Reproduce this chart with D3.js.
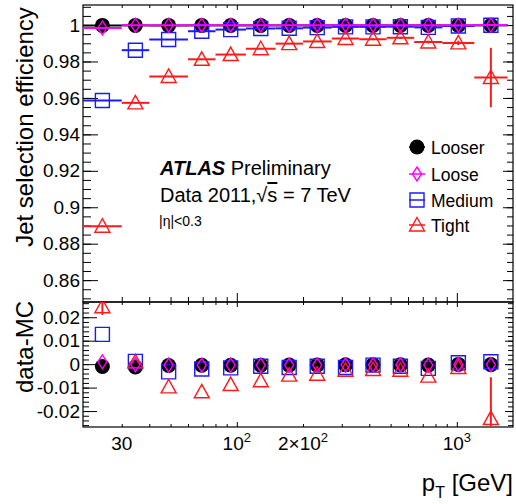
<!DOCTYPE html>
<html>
<head>
<meta charset="utf-8">
<script src="https://cdn.jsdelivr.net/npm/d3@7"></script>
<style>
  body { margin: 0; background: #fff; }
  svg { display: block; font-family: "Liberation Sans", Arial, Helvetica, sans-serif; }
</style>
</head>
<body>
<script>
// pT bins (GeV)
const ptCenters = [24.5, 34.6, 49, 69.3, 93.8, 128.5, 173, 232, 312, 416, 554, 742, 1016, 1428];
const ptLow     = [20, 30, 40, 60, 80, 110, 150, 200, 270, 360, 480, 640, 860, 1200];
const ptHigh    = [30, 40, 60, 80, 110, 150, 200, 270, 360, 480, 640, 860, 1200, 1700];

// efficiencies (top pad)
const effLooser = [0.9998, 0.9998, 0.9998, 0.9998, 0.9998, 0.9998, 0.9998, 0.9998, 0.9998, 0.9998, 0.9998, 0.9998, 0.9998, 0.9999];
const effLoose  = [0.9984, 0.9999, 0.9999, 0.9999, 0.9999, 0.9999, 0.9999, 0.9999, 0.9999, 0.9999, 0.9999, 0.9999, 0.9999, 1.0];
const effMedium = [0.9586, 0.9862, 0.9921, 0.9966, 0.9975, 0.9981, 0.9982, 0.9986, 0.9990, 0.9990, 0.9991, 0.9987, 0.9995, 0.9999];
const effTight  = [0.8896, 0.9573, 0.9718, 0.9812, 0.9838, 0.9870, 0.9898, 0.9910, 0.9926, 0.9922, 0.9930, 0.9907, 0.9902, 0.9712];
const errTight  = [0.0004, 0.0003, 0.0003, 0.0003, 0.0003, 0.0003, 0.0003, 0.0003, 0.0004, 0.0005, 0.0006, 0.0008, 0.0012, 0.0163];

// data - MC (bottom pad)
const diffLooser = [-0.0010, -0.0012, -0.0006, -0.0005, -0.0005, -0.0005, -0.0004, -0.0004, -0.0003, -0.0003, -0.0003, -0.0004, -0.0001, -0.0002];
const diffLoose  = [0.0010, -0.0002, -0.0004, -0.0004, -0.0004, -0.0004, -0.0004, -0.0004, -0.0003, -0.0003, -0.0003, -0.0004, -0.0001, -0.0002];
const diffMedium = [0.0127, 0.0012, -0.0033, -0.0021, -0.0016, -0.0009, -0.0014, -0.0009, -0.0014, -0.0004, -0.0009, -0.0018, 0.0006, 0.0010];
const diffTight  = [0.0245, 0.0010, -0.0097, -0.0118, -0.0087, -0.0071, -0.0047, -0.0043, -0.0026, -0.0023, -0.0026, -0.0051, -0.0014, -0.0232];
const diffErrTight = [0.0035, 0, 0, 0, 0, 0, 0, 0, 0, 0, 0, 0, 0, 0.0176];

// tick labels
const yTopTicks = [0.86, 0.88, 0.9, 0.92, 0.94, 0.96, 0.98, 1];
const yBotTicks = [-0.02, -0.01, 0, 0.01, 0.02];
const xLabelTicks = [30, 100, 200, 1000];
const xLabelText = [["30", ""], ["10", "2"], ["2\u00d710", "2"], ["10", "3"]];

const legendNames = ["Looser", "Loose", "Medium", "Tight"];

const series = [
  { name: "Looser", eff: effLooser, diff: diffLooser, color: "#000000", marker: "circle" },
  { name: "Medium", eff: effMedium, diff: diffMedium, color: "#1a1aff", marker: "square" },
  { name: "Tight",  eff: effTight,  diff: diffTight,  color: "#ff1a1a", marker: "triangle", err: errTight, diffErr: diffErrTight },
  { name: "Loose",  eff: effLoose,  diff: diffLoose,  color: "#ff00ff", marker: "diamond" }
];

const W = 516, H = 504;
const L = 83, R = 513, T = 5, MID = 302, B = 427;

const svg = d3.select("body").append("svg").attr("width", W).attr("height", H);

const x = d3.scaleLog().domain([20, 1800]).range([L, R]);
const yTop = d3.scaleLinear().domain([0.848, 1.011]).range([MID, T]);
const yBot = d3.scaleLinear().domain([-0.0268, 0.0265]).range([B, MID]);

// clip paths for each pad
const defs = svg.append("defs");
defs.append("clipPath").attr("id", "clipTop").append("rect")
  .attr("x", L).attr("y", T).attr("width", R - L).attr("height", MID - T);
defs.append("clipPath").attr("id", "clipBot").append("rect")
  .attr("x", L).attr("y", MID).attr("width", R - L).attr("height", B - MID);

function markerPath(type) {
  if (type === "square") return "M-7,-7H7V7H-7Z";
  if (type === "triangle") return "M0,-7.5L7.5,6L-7.5,6Z";
  if (type === "diamond") return "M0,-7L4.5,0L0,7L-4.5,0Z";
  return null;
}

function drawMarker(g, type, color, cx, cy) {
  if (type === "circle") {
    g.append("circle").attr("cx", cx).attr("cy", cy).attr("r", 7.5).attr("fill", color);
  } else {
    g.append("path").attr("d", markerPath(type))
      .attr("transform", "translate(" + cx + "," + cy + ")")
      .attr("fill", "none").attr("stroke", color).attr("stroke-width", 1.4);
  }
}

// ---------- axes ----------
function styleAxis(g) {
  g.select(".domain").remove();
  g.selectAll("line").attr("stroke", "#000").attr("stroke-width", 1);
  g.selectAll("text").attr("font-size", 19).attr("fill", "#000")
    .attr("font-family", "Liberation Sans, Arial, sans-serif");
}

const yTopMinor = d3.range(170, 203).map(i => i * 0.005).filter(v => v > 0.848 && v < 1.011);
const yBotMinor = d3.range(-13, 14).map(i => i * 0.002).filter(v => v > -0.0268 && v < 0.0265);
const xMinor = [30, 40, 50, 60, 70, 80, 90, 200, 300, 400, 500, 600, 700, 800, 900];
const xMajor = [100, 1000];

// top pad left
svg.append("g").attr("transform", `translate(${L},0)`)
  .call(d3.axisLeft(yTop).tickValues(yTopMinor).tickSizeInner(-8).tickSizeOuter(0).tickFormat(""))
  .call(styleAxis);
svg.append("g").attr("transform", `translate(${L},0)`)
  .call(d3.axisLeft(yTop).tickValues(yTopTicks).tickSizeInner(-15).tickSizeOuter(0).tickPadding(3)
    .tickFormat(d => d3.format(".2~f")(d)))
  .call(styleAxis);
// top pad right
svg.append("g").attr("transform", `translate(${R},0)`)
  .call(d3.axisRight(yTop).tickValues(yTopMinor).tickSizeInner(-6).tickSizeOuter(0).tickFormat(""))
  .call(styleAxis);
svg.append("g").attr("transform", `translate(${R},0)`)
  .call(d3.axisRight(yTop).tickValues(yTopTicks).tickSizeInner(-10).tickSizeOuter(0).tickFormat(""))
  .call(styleAxis);

// bottom pad left
svg.append("g").attr("transform", `translate(${L},0)`)
  .call(d3.axisLeft(yBot).tickValues(yBotMinor).tickSizeInner(-6).tickSizeOuter(0).tickFormat(""))
  .call(styleAxis);
svg.append("g").attr("transform", `translate(${L},0)`)
  .call(d3.axisLeft(yBot).tickValues(yBotTicks).tickSizeInner(-14).tickSizeOuter(0).tickPadding(3)
    .tickFormat(d => String(d)))
  .call(styleAxis);
// bottom pad right
svg.append("g").attr("transform", `translate(${R},0)`)
  .call(d3.axisRight(yBot).tickValues(yBotMinor).tickSizeInner(-5).tickSizeOuter(0).tickFormat(""))
  .call(styleAxis);
svg.append("g").attr("transform", `translate(${R},0)`)
  .call(d3.axisRight(yBot).tickValues(yBotTicks).tickSizeInner(-8).tickSizeOuter(0).tickFormat(""))
  .call(styleAxis);

// x ticks, all pointing into their pad: [y, side, minor length, major length]
[[MID, "bottom", 5, 9], [T, "top", 3, 5], [MID, "top", 3, 5], [B, "bottom", 3, 5]].forEach(([yy, side, mn, mj]) => {
  const ax = side === "bottom" ? d3.axisBottom : d3.axisTop;
  svg.append("g").attr("transform", `translate(0,${yy})`)
    .call(ax(x).tickValues(xMinor).tickSizeInner(-mn).tickSizeOuter(0).tickFormat(""))
    .call(styleAxis);
  svg.append("g").attr("transform", `translate(0,${yy})`)
    .call(ax(x).tickValues(xMajor).tickSizeInner(-mj).tickSizeOuter(0).tickFormat(""))
    .call(styleAxis);
});

// x tick labels
const xl = svg.append("g").attr("font-size", 19).attr("text-anchor", "middle");
xLabelTicks.forEach((v, i) => {
  const t = xl.append("text").attr("x", x(v)).attr("y", 450);
  t.append("tspan").text(xLabelText[i][0]);
  if (xLabelText[i][1]) {
    t.append("tspan").attr("dy", -8).attr("font-size", 13).text(xLabelText[i][1]);
  }
});

// frames
svg.append("rect").attr("x", L).attr("y", T).attr("width", R - L).attr("height", MID - T)
  .attr("fill", "none").attr("stroke", "#000").attr("stroke-width", 1.2);
svg.append("rect").attr("x", L).attr("y", MID).attr("width", R - L).attr("height", B - MID)
  .attr("fill", "none").attr("stroke", "#000").attr("stroke-width", 1.2);

// ---------- top pad data ----------
const gTop = svg.append("g").attr("clip-path", "url(#clipTop)");
series.forEach(s => {
  const g = gTop.append("g");
  // bin-width bars
  g.selectAll("line.xerr").data(s.eff).join("line")
    .attr("x1", (d, i) => x(ptLow[i])).attr("x2", (d, i) => x(ptHigh[i]))
    .attr("y1", d => yTop(d)).attr("y2", d => yTop(d))
    .attr("stroke", s.color).attr("stroke-width", 2);
  if (s.err) {
    g.selectAll("line.yerr").data(s.eff).join("line")
      .attr("x1", (d, i) => x(ptCenters[i])).attr("x2", (d, i) => x(ptCenters[i]))
      .attr("y1", (d, i) => yTop(d - s.err[i])).attr("y2", (d, i) => yTop(d + s.err[i]))
      .attr("stroke", s.color).attr("stroke-width", 2);
  }
  s.eff.forEach((d, i) => drawMarker(g, s.marker, s.color, x(ptCenters[i]), yTop(d)));
});

// ---------- bottom pad data ----------
const gBot = svg.append("g").attr("clip-path", "url(#clipBot)");
series.forEach(s => {
  const g = gBot.append("g");
  if (s.diffErr) {
    g.selectAll("line.yerr").data(s.diff).join("line")
      .attr("x1", (d, i) => x(ptCenters[i])).attr("x2", (d, i) => x(ptCenters[i]))
      .attr("y1", (d, i) => yBot(d - s.diffErr[i])).attr("y2", (d, i) => yBot(d + s.diffErr[i]))
      .attr("stroke", s.color).attr("stroke-width", 2);
  }
  s.diff.forEach((d, i) => drawMarker(g, s.marker, s.color, x(ptCenters[i]), yBot(d)));
});

// ---------- legend ----------
const legY = [147, 174, 200, 225];
const leg = svg.append("g");
legendNames.forEach((name, i) => {
  const s = series.find(d => d.name === name);
  leg.append("line").attr("x1", 409).attr("x2", 425).attr("y1", legY[i]).attr("y2", legY[i])
    .attr("stroke", s.color).attr("stroke-width", 1.5);
  drawMarker(leg, s.marker, s.color, 417, legY[i]);
  leg.append("text").attr("x", 431).attr("y", legY[i] + 6.5).attr("font-size", 17.5).text(name);
});

// ---------- annotations ----------
const ann = svg.append("g").attr("fill", "#000");
const atl = ann.append("text").attr("x", 160).attr("y", 175).attr("font-size", 20);
atl.append("tspan").attr("font-weight", "bold").attr("font-style", "italic").text("ATLAS");
atl.append("tspan").text(" Preliminary");
const dat = ann.append("text").attr("x", 160).attr("y", 202).attr("font-size", 20);
dat.append("tspan").text("Data 2011,\u221a");
dat.append("tspan").attr("text-decoration", "overline").text("s");
dat.append("tspan").text(" = 7 TeV");
ann.append("text").attr("x", 159).attr("y", 226).attr("font-size", 14).text("|\u03b7|<0.3");

// axis titles
svg.append("text").attr("transform", "translate(33,127) rotate(-90)")
  .attr("text-anchor", "middle").attr("font-size", 24).text("Jet selection efficiency");
svg.append("text").attr("transform", "translate(33,347) rotate(-90)")
  .attr("text-anchor", "middle").attr("font-size", 24).text("data-MC");
const xt = svg.append("text").attr("x", 513).attr("y", 491).attr("text-anchor", "end").attr("font-size", 24);
xt.append("tspan").text("p");
xt.append("tspan").attr("font-size", 16).attr("dy", 7).text("T");
xt.append("tspan").attr("dy", -7).text(" [GeV]");
</script>
</body>
</html>
